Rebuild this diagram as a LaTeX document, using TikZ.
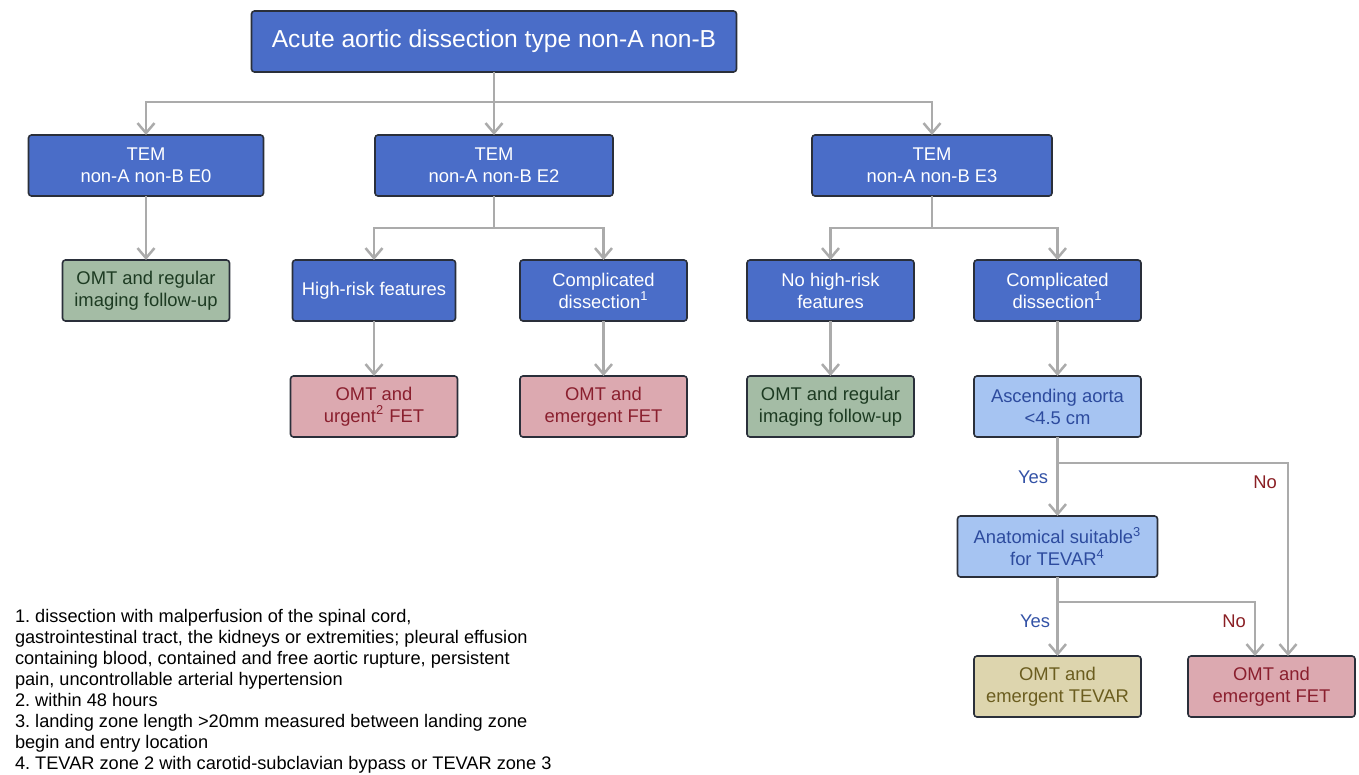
\documentclass[tikz,border=0pt]{standalone}
\usepackage{fontspec}
\setmainfont{Liberation Sans}
\usepackage{xcolor}
\definecolor{hubblue}{HTML}{4A6DC8}
\definecolor{askblue}{HTML}{A6C4F2}
\definecolor{asktext}{HTML}{2D4B9E}
\definecolor{omtgreen}{HTML}{A4BCA5}
\definecolor{omttext}{HTML}{1D3B22}
\definecolor{fetred}{HTML}{DCA9B0}
\definecolor{fettext}{HTML}{8A1F2E}
\definecolor{tevtan}{HTML}{DDD5AE}
\definecolor{tevtext}{HTML}{6B5D1F}
\definecolor{boxline}{HTML}{2A2F3A}
\definecolor{linkgray}{HTML}{ABABAB}
\definecolor{yescol}{HTML}{3352A6}
\definecolor{nocol}{HTML}{8A1F24}
\usepackage{tikz}
\usetikzlibrary{positioning}
\usetikzlibrary{arrows.meta}
\frenchspacing

\begin{document}
\begin{tikzpicture}[x=0.5pt,y=-0.5pt,align=center,every node/.style={inner sep=2,outer sep=0,font=\fontsize{9.2}{11}\selectfont},
    box/.style={draw=boxline,line width=0.8pt,rounded corners=1.5pt,minimum width=83.5pt,minimum height=30.5pt},
    hub/.style={box,fill=hubblue,text=white},
    ask/.style={box,fill=askblue,text=asktext},
    omt/.style={box,fill=omtgreen,text=omttext},
    fet/.style={box,fill=fetred,text=fettext},
    tev/.style={box,fill=tevtan,text=tevtext},
    link/.style={draw=linkgray,line width=1.25pt},
    flow/.style={link,-{Straight Barb[length=5pt,width=8.5pt]}}]
    \useasboundingbox (0,0) rectangle (1359,775);
    \node[hub,minimum width=242.5pt,font=\fontsize{12.3}{14}\selectfont] (B1) at (494,41.5) {Acute aortic dissection type non-A non-B};
    \node[hub,minimum width=117.5pt] (B2) at (146,165.5) {TEM\\non-A non-B E0};
    \node[hub,minimum width=119pt] (B3) at (494,165.5) {TEM\\non-A non-B E2};
    \node[hub,minimum width=120pt] (B4) at (932,165.5) {TEM\\non-A non-B E3};
    \node[omt] (B5) at (146,290.5) {OMT and regular\\imaging follow-up};
    \node[hub,minimum width=81.5pt] (B6) at (374,290.5) {High-risk features};
    \node[hub] (B7) at (603.5,290.5) {Complicated\\dissection\textsuperscript{1}};
    \node[hub] (B8) at (830.5,290.5) {No high-risk\\features};
    \node[hub] (B9) at (1057.5,290.5) {Complicated\\dissection\textsuperscript{1}};
    \node[fet] (B10) at (374,406.5) {OMT and\\urgent\textsuperscript{2} FET};
    \node[fet] (B11) at (603.5,406.5) {OMT and\\emergent FET};
    \node[omt] (B12) at (830.5,406.5) {OMT and regular\\imaging follow-up};
    \node[ask] (B13) at (1057.5,406.5) {Ascending aorta\\<4.5 cm};
    \node[ask,minimum width=100pt] (B14) at (1057.5,546.5) {Anatomical suitable\textsuperscript{3}\\for TEVAR\textsuperscript{4}};
    \node[tev] (B15) at (1057.5,686.5) {OMT and\\emergent TEVAR};
    \node[fet] (B16) at (1271.5,686.5) {OMT and\\emergent FET};
    % yes / no
    \node[text=yescol] (Y1) at (1033,477) {Yes};
    \node[text=nocol] (N1) at (1265,482) {No};
    \node[text=yescol] (Y2) at (1035,621) {Yes};
    \node[text=nocol] (N2) at (1234,621) {No};
    % footnotes
    \node[anchor=north west,align=left,inner sep=0,font=\fontsize{9.1}{10.5}\selectfont] (F1) at (15,609) {1. dissection with malperfusion of the spinal cord,\\
        gastrointestinal tract, the kidneys or extremities; pleural effusion\\
        containing blood, contained and free aortic rupture, persistent\\
        pain, uncontrollable arterial hypertension\\
        2. within 48 hours\\
        3. landing zone length >20mm measured between landing zone\\
        begin and entry location\\
        4. TEVAR zone 2 with carotid-subclavian bypass or TEVAR zone 3};
    \coordinate (S1) at (494,102);
    \coordinate (S2) at (494,228);
    \coordinate (S3) at (932,228);
    \coordinate (S4) at (1057.5,463);
    \coordinate (S5) at (1057.5,602);
    \draw[link] (B1) -- (S1);
    \draw[flow] (S1) -| (B2);
    \draw[flow] (S1) -- (B3);
    \draw[flow] (S1) -| (B4);
    \draw[flow] (B2) -- (B5);
    \draw[link] (B3) -- (S2);
    \draw[flow] (S2) -| (B6);
    \draw[flow] (S2) -| (B7);
    \draw[link] (B4) -- (S3);
    \draw[flow] (S3) -| (B8);
    \draw[flow] (S3) -| (B9);
    \draw[flow] (B6) -- (B10);
    \draw[flow] (B7) -- (B11);
    \draw[flow] (B8) -- (B12);
    \draw[flow] (B9) -- (B13);
    \draw[link] (B13) -- (S4);
    \draw[flow] (S4) -- (B14);
    \draw[flow] (S4) -| ([xshift=8.25pt]B16.north);
    \draw[link] (B14) -- (S5);
    \draw[flow] (S5) -- (B15);
    \draw[flow] (S5) -| ([xshift=-8.25pt]B16.north);
\end{tikzpicture}
\end{document}
